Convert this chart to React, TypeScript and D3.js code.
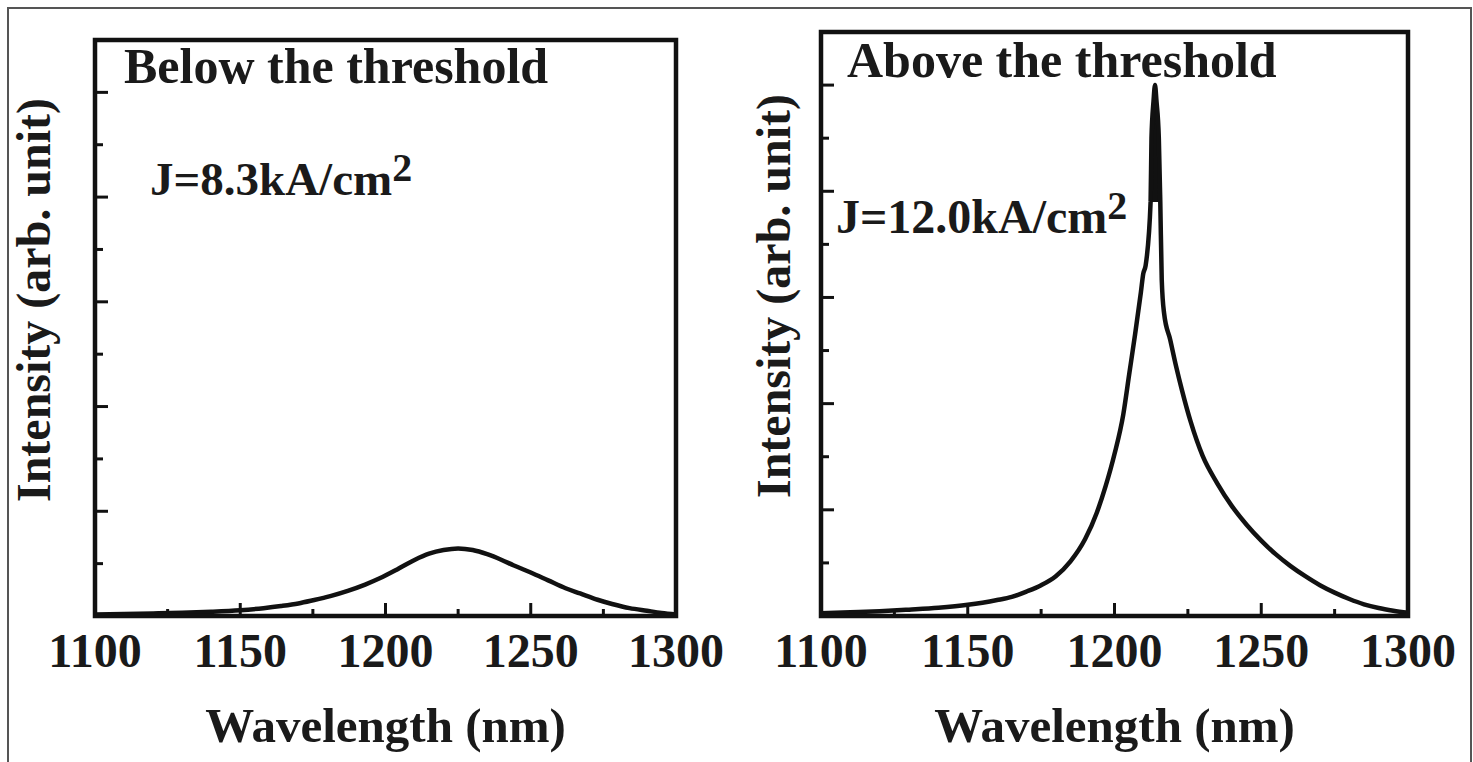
import * as d3 from "d3";

// tick values shared by both panels
const wavelengthTicks = [1100, 1150, 1200, 1250, 1300];
const minorWavelengthTicks = [1125, 1175, 1225, 1275];
const intensityTicks = [1, 2, 3, 4, 5, 6, 7, 8, 9, 10];

// below threshold spectrum (J = 8.3 kA/cm2)
const belowWavelength = [
  1100, 1110, 1120, 1130, 1140, 1150, 1158, 1164, 1170, 1175, 1181, 1187, 1193, 1198,
  1204, 1210, 1215, 1220, 1225, 1230, 1235, 1240, 1244, 1250, 1256, 1262, 1267, 1273,
  1278, 1284, 1290, 1295, 1300,
];
const belowIntensity = [
  0.03, 0.04, 0.05, 0.06, 0.08, 0.11, 0.15, 0.19, 0.24, 0.3, 0.38, 0.48, 0.6, 0.72,
  0.89, 1.07, 1.19, 1.26, 1.29, 1.26, 1.18, 1.07, 0.97, 0.83, 0.68, 0.53, 0.43, 0.31,
  0.23, 0.15, 0.1, 0.06, 0.03,
];

// above threshold spectrum (J = 12.0 kA/cm2)
const aboveWavelength = [
  1100, 1110, 1120, 1130, 1140, 1150, 1155, 1160, 1165, 1170, 1175, 1180, 1185, 1190,
  1194, 1197, 1200, 1203, 1205, 1207, 1209, 1209.8, 1210.6, 1212.3, 1212.6, 1213.3,
  1213.8, 1214.3, 1215.1, 1215.6, 1216.1, 1216.9, 1219, 1221, 1223, 1226, 1230, 1235,
  1240, 1245, 1250, 1255, 1260, 1265, 1270, 1275, 1280, 1285, 1290, 1295, 1300,
];
const aboveIntensity = [
  0.05, 0.07, 0.09, 0.12, 0.155, 0.21, 0.25, 0.3, 0.36, 0.46, 0.58, 0.75, 1.03, 1.45,
  1.95, 2.45, 3.05, 3.8, 4.55, 5.3, 6.1, 6.45, 6.6, 7.8, 9.0, 9.7,
  10.0, 9.7, 9.0, 7.8, 6.33, 5.7, 5.2, 4.7, 4.25, 3.65, 3.02, 2.5,
  2.07, 1.72, 1.42, 1.16, 0.94, 0.75, 0.58, 0.44, 0.32, 0.22, 0.15, 0.1, 0.06,
];

// level above which the lasing line is drawn solid
const aboveSpikeLevel = 7.8;

const font = "'Liberation Serif', 'Times New Roman', serif";

interface PanelProps {
  left: number;
  right: number;
  top: number;
  bottom: number;
  wavelengths: number[];
  intensities: number[];
  spikeLevel?: number;
  title: string;
  titleX: number;
  titleY: number;
  current: string;
  currentX: number;
  currentY: number;
  currentSize: number;
  yLabelX: number;
}

function Panel({
  left,
  right,
  top,
  bottom,
  wavelengths,
  intensities,
  spikeLevel,
  title,
  titleX,
  titleY,
  current,
  currentX,
  currentY,
  currentSize,
  yLabelX,
}: PanelProps) {
  const x = d3.scaleLinear().domain([1100, 1300]).range([left, right]);
  const y = d3.scaleLinear().domain([0, 11]).range([bottom, top]);
  const points = wavelengths.map((w, i) => [w, intensities[i]] as [number, number]);
  const line = d3
    .line<[number, number]>()
    .x((d) => x(d[0]))
    .y((d) => y(d[1]))
    .curve(d3.curveMonotoneX);

  let spike = "";
  if (spikeLevel !== undefined) {
    const spikePoints = points.filter((d) => d[1] >= spikeLevel);
    spike =
      d3
        .area<[number, number]>()
        .x((d) => x(d[0]))
        .y0(y(spikeLevel))
        .y1((d) => y(d[1]))
        .curve(d3.curveMonotoneX)(spikePoints) ?? "";
  }

  return (
    <g fontFamily={font} fontWeight="bold" fill="#1a1a1a">
      {spike && <path d={spike} fill="#111" />}
      <path d={line(points) ?? ""} fill="none" stroke="#111" strokeWidth={4.5} strokeLinejoin="round" />
      {intensityTicks.map((t) => (
        <line
          key={t}
          x1={left}
          x2={left + (t % 2 === 0 ? 13 : 8)}
          y1={y(t)}
          y2={y(t)}
          stroke="#111"
          strokeWidth={3}
        />
      ))}
      {wavelengthTicks.slice(1, -1).map((t) => (
        <line key={t} x1={x(t)} x2={x(t)} y1={bottom} y2={bottom - 13} stroke="#111" strokeWidth={3} />
      ))}
      {minorWavelengthTicks.map((t) => (
        <line key={t} x1={x(t)} x2={x(t)} y1={bottom} y2={bottom - 7} stroke="#111" strokeWidth={3} />
      ))}
      <rect
        x={left}
        y={top}
        width={right - left}
        height={bottom - top}
        fill="none"
        stroke="#111"
        strokeWidth={4.5}
      />
      {wavelengthTicks.map((t) => (
        <text key={t} x={x(t)} y={667} textAnchor="middle" fontSize={48}>
          {t}
        </text>
      ))}
      <text x={(left + right) / 2} y={742} textAnchor="middle" fontSize={49}>
        Wavelength (nm)
      </text>
      <text
        transform={`translate(${yLabelX}, ${(top + bottom) / 2 - 28}) rotate(-90)`}
        textAnchor="middle"
        fontSize={48}
      >
        Intensity (arb. unit)
      </text>
      <text x={titleX} y={titleY} fontSize={50}>
        {title}
      </text>
      <text x={currentX} y={currentY} fontSize={currentSize}>
        {current}
        <tspan dy={-14} fontSize={40}>
          2
        </tspan>
      </text>
    </g>
  );
}

export default function App() {
  return (
    <svg
      width={1473}
      height={762}
      viewBox="0 0 1473 762"
      style={{ position: "absolute", left: 0, top: 0, background: "#fff" }}
    >
      <rect x={0} y={0} width={1473} height={762} fill="#fff" />
      <rect x={8} y={8} width={1463} height={780} fill="none" stroke="#555" strokeWidth={2} />
      <Panel
        left={95}
        right={676}
        top={40}
        bottom={616}
        wavelengths={belowWavelength}
        intensities={belowIntensity}
        title="Below the threshold"
        titleX={124}
        titleY={83}
        current="J=8.3kA/cm"
        currentX={150}
        currentY={195}
        currentSize={47}
        yLabelX={50}
      />
      <Panel
        left={821}
        right={1408}
        top={32}
        bottom={616}
        wavelengths={aboveWavelength}
        intensities={aboveIntensity}
        spikeLevel={aboveSpikeLevel}
        title="Above the threshold"
        titleX={847}
        titleY={77}
        current="J=12.0kA/cm"
        currentX={836}
        currentY={233}
        currentSize={48}
        yLabelX={790}
      />
    </svg>
  );
}
